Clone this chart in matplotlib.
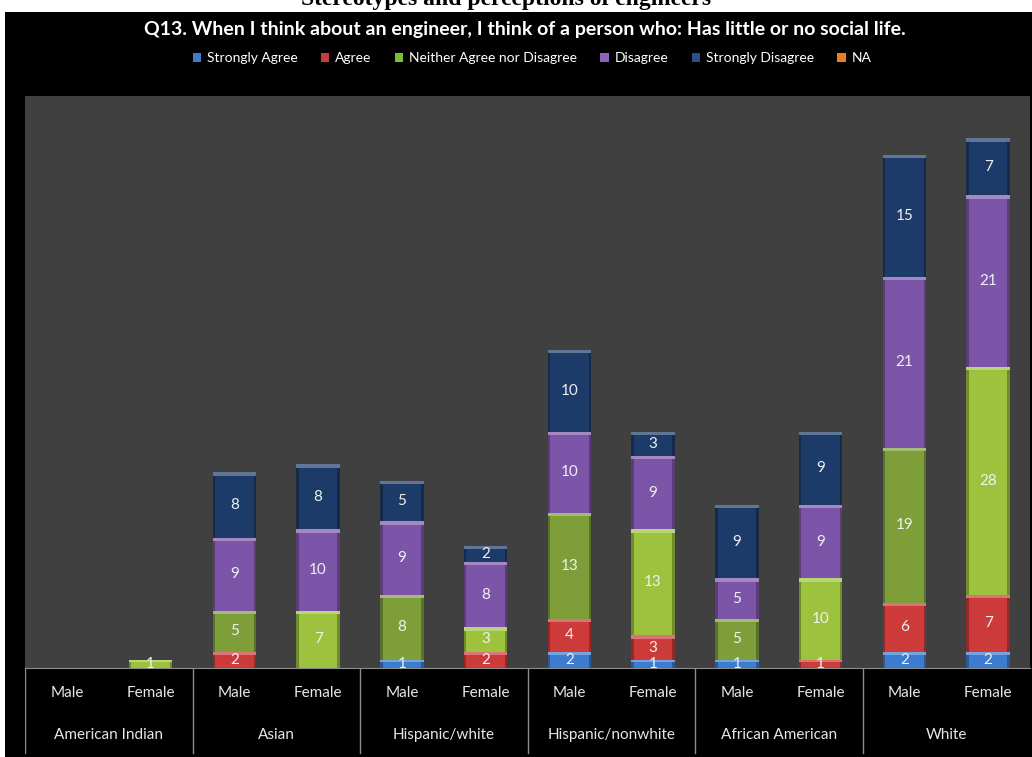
import numpy as np
import matplotlib.pyplot as plt
import matplotlib.colors as mcolors
from matplotlib.patches import Rectangle, Patch

plt.rcParams['font.family'] = ['Lato', 'DejaVu Sans']

groups = ['American Indian', 'Asian', 'Hispanic/white', 'Hispanic/nonwhite',
          'African American', 'White']
genders = ['Male', 'Female']
series = ['Strongly Agree', 'Agree', 'Neither Agree nor Disagree', 'Disagree',
          'Strongly Disagree', 'NA']

# one value per bar: Male, Female for each group in turn
strongly_agree = [0, 0, 0, 0, 1, 0, 2, 1, 1, 0, 2, 2]
agree = [0, 0, 2, 0, 0, 2, 4, 3, 0, 1, 6, 7]
neither = [0, 1, 5, 7, 8, 3, 13, 13, 5, 10, 19, 28]
disagree = [0, 0, 9, 10, 9, 8, 10, 9, 5, 9, 21, 21]
strongly_disagree = [0, 0, 8, 8, 5, 2, 10, 3, 9, 9, 15, 7]
na = [0, 0, 0, 0, 0, 0, 0, 0, 0, 0, 0, 0]

values = [strongly_agree, agree, neither, disagree, strongly_disagree, na]
colors = ['#3b7bd0', '#cc3a3a', '#7e9e3a', '#7d55a8', '#1d3b68', '#e07b20']
neither_female = '#9cc23e'
legend_colors = ['#3b7bd0', '#cc3a3a', '#7fbb3a', '#8a64b8', '#2a4f8a', '#e8801e']


def shade(c, f):
    r, g, b = mcolors.to_rgb(c)
    if f < 1:
        return (r * f, g * f, b * f)
    f = f - 1
    return (r + (1 - r) * f, g + (1 - g) * f, b + (1 - b) * f)


def bevel_bar(ax, x, bottom, h, color, w=0.52):
    ax.bar(x, h, w, bottom=bottom, color=color, edgecolor='none', zorder=2)
    side = w * 0.06
    dark = shade(color, 0.72)
    ax.bar(x - w / 2 + side / 2, h, side, bottom=bottom, color=dark,
           edgecolor='none', zorder=3)
    ax.bar(x + w / 2 - side / 2, h, side, bottom=bottom, color=dark,
           edgecolor='none', zorder=3)
    band = min(0.4, h * 0.3)
    ax.bar(x, band, w, bottom=bottom + h - band, color=shade(color, 1.3),
           edgecolor='none', zorder=3)


fig = plt.figure(figsize=(10.32, 7.57), dpi=100)
fig.patch.set_facecolor('white')

W, H = 1032, 757

# heading of the page above the chart, only its lower edge shows
fig.text(0.49, 1 - 5 / H, 'Stereotypes and perceptions of engineers',
         family=['Liberation Serif', 'DejaVu Serif'], weight='bold',
         fontsize=17, ha='center', va='baseline', color='black', zorder=0)
fig.patches.append(Rectangle((5 / W, 0), 1, 1 - 12 / H, transform=fig.transFigure,
                             facecolor='black', edgecolor='none', zorder=1))

fig.text(525 / W, 1 - 29 / H,
         'Q13. When I think about an engineer, I think of a person who: '
         'Has little or no social life.',
         ha='center', va='center', color='white', fontsize=14,
         weight='bold', zorder=5)

ax = fig.add_axes([25 / W, (H - 668) / H, (1030 - 25) / W, (668 - 96) / H])
ax.set_facecolor('#404040')
ax.set_zorder(3)

x = np.arange(12)
bottoms = np.zeros(12)
for k, vals in enumerate(values):
    for i in range(12):
        h = vals[i]
        if h <= 0:
            continue
        c = colors[k]
        if k == 2 and i % 2 == 1:
            c = neither_female
        bevel_bar(ax, x[i], bottoms[i], h, c)
        ax.text(x[i], bottoms[i] + h / 2, str(h), ha='center', va='center',
                color='#f0f0f0', fontsize=11, zorder=4, clip_on=True)
    bottoms += np.array(vals)

ax.set_xlim(-0.5, 11.5)
ax.set_ylim(0, 70.2)
ax.set_xticks([])
ax.set_yticks([])
for s in ['top', 'right', 'left']:
    ax.spines[s].set_visible(False)
ax.spines['bottom'].set_color('#8c8c8c')

# category table under the bars
tab = fig.add_axes([25 / W, 0, (1030 - 25) / W, (H - 668) / H])
tab.set_facecolor('black')
tab.set_zorder(3)
tab.set_xlim(-0.5, 11.5)
tab.set_ylim(0, H - 668)
tab.axis('off')
for g in range(6):
    tab.plot([2 * g - 0.5, 2 * g - 0.5], [4, H - 668], color='#8c8c8c', lw=1)
    tab.text(2 * g + 0.5, 757 - 735, groups[g], ha='center', va='center',
             color='#e6e6e6', fontsize=11)
    for j, gen in enumerate(genders):
        tab.text(2 * g + j, 757 - 693, gen, ha='center', va='center',
                 color='#e6e6e6', fontsize=11)

handles = [Patch(facecolor=c, edgecolor='none') for c in legend_colors]
leg = fig.legend(handles, series, loc='center', bbox_to_anchor=(532 / W, 1 - 58 / H),
                 ncol=6, frameon=False, fontsize=10, handlelength=0.6,
                 handleheight=0.6, handletextpad=0.4, columnspacing=1.7)
for t in leg.get_texts():
    t.set_color('white')
leg.set_zorder(5)

fig.savefig('out.png', dpi=100, facecolor=fig.get_facecolor())
